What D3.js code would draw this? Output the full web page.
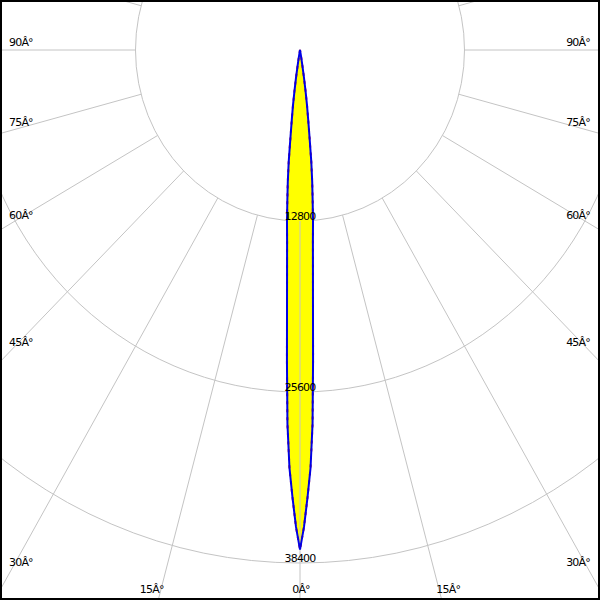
<!DOCTYPE html>
<html><head><meta charset="utf-8">
<script src="https://cdn.jsdelivr.net/npm/d3@7"></script>
<style>html,body{margin:0;padding:0;background:#fff}svg{display:block}</style>
</head><body>
<script>
// gamma angles (deg) of the measured half-profile and intensities (cd)
const gammaDeg = [0,0.5,1,1.5,2,2.5,3,3.5,4,4.5,5,5.5,6,6.5,7,7.5,8,8.5,9,9.5,10,10.5];
const intensity = [37400,35700,33500,31300,28000,23300,19300,16500,14400,12900,11300,9900,8400,6500,5200,4200,3100,2100,1200,600,200,0];
// grid rings and their labels
const ringValues = [12800, 25600, 38400];
const ringLabels = ["12800", "25600", "38400"];
// angle grid
const rayAngles = d3.range(-180, 181, 15);
const angleTicks = [0, 15, 30, 45, 60, 75, 90];
const angleLabel = a => a + "Â°";

const W = 600, H = 600;
const cx = 300, cy = 50, k = 0.962, kLab = 0.93;
const r = d3.scaleLinear().domain([0, 38400]).range([0, 513]);

const svg = d3.select("body").append("svg").attr("width", W).attr("height", H)
  .style("font-family", "'DejaVu Sans', Verdana, sans-serif");
svg.append("rect").attr("width", W).attr("height", H).attr("fill", "#fff");

const g = svg.append("g").attr("transform", `translate(${cx},${cy}) scale(${k},1)`);

// rings
g.selectAll("circle.ring").data(ringValues).join("circle")
  .attr("r", d => r(d)).attr("fill", "none").attr("stroke", "#c4c4c4")
  .attr("stroke-width", 1).attr("vector-effect", "non-scaling-stroke");

// full symmetric profile: left (negative) and right (positive)
const profile = [];
for (let i = gammaDeg.length - 1; i > 0; i--) profile.push([-gammaDeg[i], intensity[i]]);
for (let i = 0; i < gammaDeg.length; i++) profile.push([gammaDeg[i], intensity[i]]);
const radial = d3.lineRadial()
  .angle(d => Math.PI - d[0] * Math.PI / 180)
  .radius(d => r(d[1]));

g.append("path").attr("d", radial(profile) + "Z").attr("fill", "#ffff00").attr("stroke", "none");

// rays from first ring outwards
g.selectAll("line.ray").data(rayAngles).join("line")
  .each(function(a) {
    const ang = Math.PI - a * Math.PI / 180;
    const p0 = d3.pointRadial(ang, r(ringValues[0]));
    const p1 = d3.pointRadial(ang, 1400);
    d3.select(this).attr("x1", p0[0]).attr("y1", p0[1]).attr("x2", p1[0]).attr("y2", p1[1]);
  })
  .attr("stroke", "#c4c4c4").attr("stroke-width", 1).attr("vector-effect", "non-scaling-stroke");

// curves
g.append("path").attr("d", radial(profile) + "Z").attr("fill", "none")
  .attr("stroke", "#cc1020").attr("stroke-width", 2).attr("stroke-dasharray", "3,5")
  .attr("vector-effect", "non-scaling-stroke");
g.append("path").attr("d", radial(profile) + "Z").attr("fill", "none")
  .attr("stroke", "#0000e6").attr("stroke-width", 2)
  .attr("vector-effect", "non-scaling-stroke");

// ring labels
svg.selectAll("text.ring").data(ringValues).join("text")
  .attr("x", cx).attr("y", d => cy + r(d) - 1)
  .attr("text-anchor", "middle").attr("font-size", 11).attr("letter-spacing", -0.8)
  .attr("fill", "#000").text((d, i) => ringLabels[i]);

// angle labels
const labs = [];
angleTicks.forEach(a => {
  const sides = a === 0 ? [0] : [-1, 1];
  sides.forEach(s => {
    const rad = a * Math.PI / 180;
    const dx = kLab * Math.sin(rad), dy = Math.cos(rad);
    const tx = dx > 1e-9 ? 279 / dx : Infinity;
    const ty = dy > 1e-9 ? 547 / dy : Infinity;
    if (tx <= ty) {
      labs.push({ text: angleLabel(a), x: s < 0 ? 9 : 590, y: cy + tx * dy - 4, anchor: s < 0 ? "start" : "end" });
    } else {
      const x = cx + s * ty * dx;
      labs.push({ text: angleLabel(a), x: s === 0 ? x + 1 : x, y: 593, anchor: s < 0 ? "end" : (s > 0 ? "start" : "middle") });
    }
  });
});
svg.selectAll("text.ang").data(labs).join("text")
  .attr("x", d => d.x).attr("y", d => d.y).attr("text-anchor", d => d.anchor)
  .attr("font-size", 11).attr("letter-spacing", -0.8).attr("fill", "#000").text(d => d.text);

// frame
svg.append("rect").attr("x", 1).attr("y", 1).attr("width", W - 2).attr("height", H - 2)
  .attr("fill", "none").attr("stroke", "#000").attr("stroke-width", 2);
</script>
</body></html>
